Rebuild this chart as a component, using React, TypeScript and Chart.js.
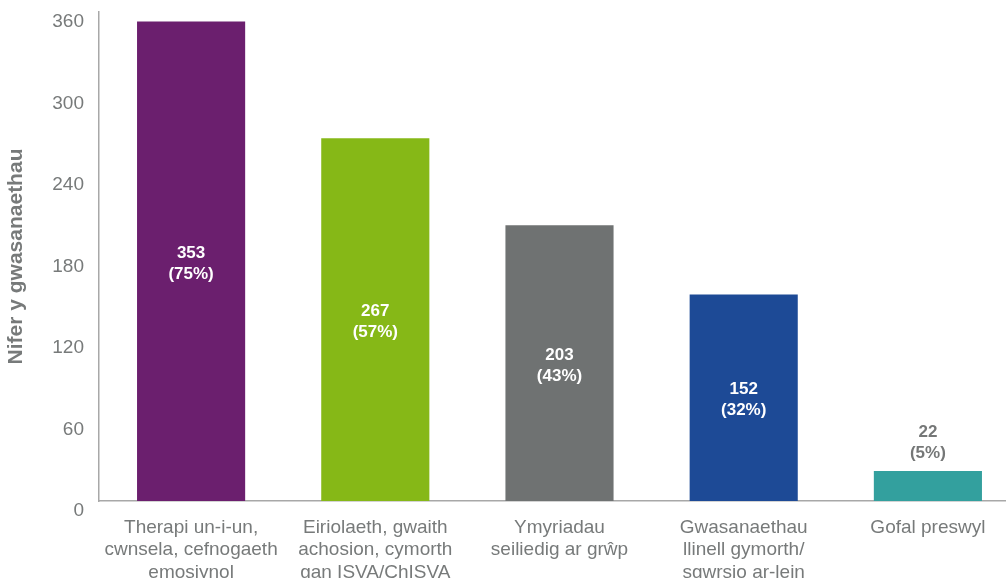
import React, { useEffect, useRef } from "react";
import { Chart, registerables } from "chart.js";

Chart.register(...registerables);

const categories: string[][] = [
  ["Therapi un-i-un,", "cwnsela, cefnogaeth", "emosiynol"],
  ["Eiriolaeth, gwaith", "achosion, cymorth", "gan ISVA/ChISVA"],
  ["Ymyriadau", "seiliedig ar grŵp"],
  ["Gwasanaethau", "llinell gymorth/", "sgwrsio ar-lein"],
  ["Gofal preswyl"],
];
const values: number[] = [353, 267, 203, 152, 22];
const percents: string[] = ["75%", "57%", "43%", "32%", "5%"];
const colors: string[] = ["#6B1F6E", "#86B817", "#6F7272", "#1D4A96", "#33A09E"];
const yTicks: number[] = [0, 60, 120, 180, 240, 300, 360];
const yTitle = "Nifer y gwasanaethau";

const FONT = "'Liberation Sans', Arial, Helvetica, sans-serif";

const labelPlugin = {
  id: "barLabels",
  afterDatasetsDraw(chart: any) {
    const ctx = chart.ctx;
    const meta = chart.getDatasetMeta(0);
    ctx.save();
    ctx.font = `bold 17px ${FONT}`;
    ctx.textAlign = "center";
    ctx.textBaseline = "middle";
    meta.data.forEach((bar: any, i: number) => {
      const lines = [String(values[i]), `(${percents[i]})`];
      const h = bar.base - bar.y;
      let cy: number;
      if (h > 80) {
        ctx.fillStyle = "#ffffff";
        cy = (bar.y + bar.base) / 2 + 2;
      } else {
        ctx.fillStyle = "#757777";
        cy = bar.y - 29;
      }
      ctx.fillText(lines[0], bar.x, cy - 10);
      ctx.fillText(lines[1], bar.x, cy + 11);
    });
    ctx.restore();
  },
};

export default function App() {
  const ref = useRef<HTMLCanvasElement>(null);
  useEffect(() => {
    document.body.style.margin = "0";
    document.body.style.overflow = "hidden";
    const chart = new Chart(ref.current!, {
      type: "bar",
      data: {
        labels: categories,
        datasets: [
          {
            data: values,
            backgroundColor: colors,
            barPercentage: 0.587,
            categoryPercentage: 1,
          },
        ],
      },
      options: {
        animation: false,
        responsive: false,
        maintainAspectRatio: false,
        layout: { padding: { top: 12, right: 0, left: 0, bottom: 16 } },
        plugins: { legend: { display: false }, tooltip: { enabled: false } },
        scales: {
          x: {
            afterFit: (axis: any) => {
              axis.height = 83;
              axis.paddingLeft = 0;
              axis.paddingRight = 0;
            },
            grid: { display: false, drawTicks: false },
            border: { color: "#a8a8a8", width: 1.5 },
            ticks: {
              color: "#777a7a",
              font: { family: FONT, size: 19 },
              padding: 15,
              maxRotation: 0,
              autoSkip: false,
            },
          },
          y: {
            min: 0,
            max: 360,
            afterBuildTicks: (axis: any) => {
              axis.ticks = yTicks.map((v) => ({ value: v }));
            },
            afterFit: (axis: any) => {
              axis.width = 99;
              axis.paddingTop = 0;
              axis.paddingBottom = 0;
            },
            grid: { display: false, drawTicks: false },
            border: { color: "#a8a8a8", width: 1.5 },
            ticks: {
              color: "#777a7a",
              font: { family: FONT, size: 19 },
              padding: 15,
              labelOffset: 10,
            },
            title: {
              display: true,
              text: yTitle,
              color: "#777a7a",
              font: { family: FONT, size: 21, weight: "bold" },
              padding: { top: 4, bottom: 0 },
            },
          },
        },
      },
      plugins: [labelPlugin],
    });
    return () => chart.destroy();
  }, []);
  return (
    <div style={{ position: "fixed", left: 0, top: 0, width: 1020, height: 600 }}>
      <canvas ref={ref} width={1020} height={600} />
    </div>
  );
}
